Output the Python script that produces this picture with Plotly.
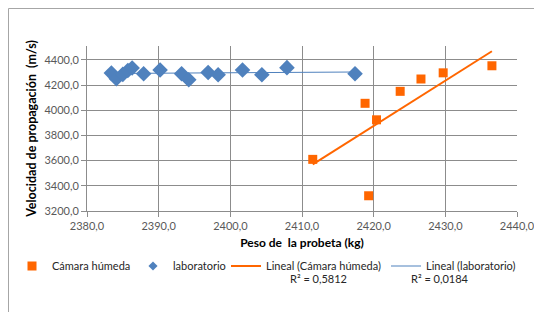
import numpy as np
import plotly.graph_objects as go

# --- data ---
camara_x = [2411.5, 2418.8, 2419.3, 2420.4, 2423.7, 2426.6, 2429.7, 2436.5]
camara_y = [3610, 4055, 3321, 3924, 4150, 4248, 4297, 4353]

lab_x = [2383.4, 2384.1, 2385.0, 2385.7, 2386.3, 2387.9, 2390.2, 2393.2,
         2394.2, 2396.9, 2398.3, 2401.7, 2404.4, 2407.9, 2417.4]
lab_y = [4295, 4250, 4285, 4315, 4335, 4290, 4320, 4290,
         4242, 4300, 4282, 4320, 4282, 4338, 4290]

x_ticks = [2380, 2390, 2400, 2410, 2420, 2430, 2440]
y_ticks = [3200, 3400, 3600, 3800, 4000, 4200, 4400]

r2_camara = "R² = 0,5812"
r2_lab = "R² = 0,0184"

ORANGE = "#FF6600"
BLUE = "#4F81BD"
FONT = "Lato, 'Open Sans', sans-serif"


def trend(xs, ys):
    xs = np.array(xs, dtype=float)
    ys = np.array(ys, dtype=float)
    m, b = np.polyfit(xs, ys, 1)
    xx = np.array([xs.min(), xs.max()])
    return xx, m * xx + b


tcx, tcy = trend(camara_x, camara_y)
tlx, tly = trend(lab_x, lab_y)

fig = go.Figure()
fig.add_trace(go.Scatter(x=tcx, y=tcy, mode="lines", name="Lineal (Cámara húmeda)",
                         line=dict(color=ORANGE, width=2), legend="legend3"))
fig.add_trace(go.Scatter(x=tlx, y=tly, mode="lines", name="Lineal (laboratorio)",
                         line=dict(color=BLUE, width=1), legend="legend4"))
fig.add_trace(go.Scatter(x=camara_x, y=camara_y, mode="markers", name="Cámara húmeda",
                         marker=dict(symbol="square", size=9, color=ORANGE), showlegend=False))
fig.add_trace(go.Scatter(x=lab_x, y=lab_y, mode="markers", name="laboratorio",
                         marker=dict(symbol="diamond", size=12, color=BLUE), showlegend=False))
# legend proxies with the smaller legend symbols of the reference
fig.add_trace(go.Scatter(x=[None], y=[None], mode="markers", name="Cámara húmeda",
                         marker=dict(symbol="square", size=9, color=ORANGE), legend="legend"))
fig.add_trace(go.Scatter(x=[None], y=[None], mode="markers", name="laboratorio",
                         marker=dict(symbol="diamond", size=7, color=BLUE), legend="legend2"))

# the page body adds an 8px offset; target pixels are given in page coords
OFF = 8
W, H = 542, 312
# plot area in page pixels: x 87..517, y 46..211
L = 87 - OFF
T = 46 - OFF
R = W - (517 - OFF)
B = H - (211 - OFF)
pw, ph = W - L - R, H - T - B


def px(xp):
    return (xp - OFF - L) / pw


def py(yp):
    return (H - B - (yp - OFF)) / ph


leg_common = dict(orientation="h", yanchor="middle", xanchor="left",
                  font=dict(family=FONT, size=11, color="#262626"),
                  bgcolor="rgba(0,0,0,0)", borderwidth=0)

fig.update_layout(
    width=W, height=H,
    margin=dict(l=L, r=R, t=T, b=B, autoexpand=False),
    paper_bgcolor="white", plot_bgcolor="white",
    separators=",.",
    font=dict(family=FONT, size=10, color="#595959"),
    legend=dict(x=px(12), y=py(266), **leg_common),
    legend2=dict(x=px(133), y=py(266), **leg_common),
    legend3=dict(x=px(226), y=py(266), **leg_common),
    legend4=dict(x=px(386), y=py(266), **leg_common),
    xaxis=dict(range=[2380, 2440], tickvals=x_ticks, tickformat=".1f",
               showgrid=True, gridcolor="#8C8C8C", gridwidth=1,
               showline=True, linecolor="#8C8C8C", linewidth=1,
               ticks="outside", ticklen=5, tickcolor="#8C8C8C",
               zeroline=False, automargin=False,
               tickfont=dict(family=FONT, size=11, color="#595959"),
               title=dict(text="<b>Peso de  la probeta (kg)</b>", standoff=7,
                          font=dict(family=FONT, size=12, color="#000000"))),
    yaxis=dict(range=[3200, 4510], tickvals=y_ticks, tickformat=".1f",
               showgrid=True, gridcolor="#8C8C8C", gridwidth=1,
               showline=True, linecolor="#8C8C8C", linewidth=1,
               ticks="outside", ticklen=5, tickcolor="#8C8C8C",
               zeroline=False, automargin=False,
               tickfont=dict(family=FONT, size=11, color="#595959"),
               title=dict(text="<b>Velocidad de propagación  (m/s)</b>", standoff=5,
                          font=dict(family=FONT, size=12.5, color="#000000"))),
    showlegend=True,
)

fig.add_annotation(text=r2_camara, xref="paper", yref="paper", x=px(318), y=py(287),
                   showarrow=False, font=dict(family=FONT, size=11, color="#262626"))
fig.add_annotation(text=r2_lab, xref="paper", yref="paper", x=px(471), y=py(287),
                   showarrow=False, font=dict(family=FONT, size=11, color="#262626"))

# chart-area frame (top and left edges visible), at the figure's top-left edge
fr_x = (0.5 - L) / pw
fr_y = (H - B - 0.5) / ph
fig.add_shape(type="line", xref="paper", yref="paper", x0=fr_x, x1=px(600), y0=fr_y, y1=fr_y,
              line=dict(color="#A6A6A6", width=1))
fig.add_shape(type="line", xref="paper", yref="paper", x0=fr_x, x1=fr_x, y0=fr_y, y1=py(400),
              line=dict(color="#A6A6A6", width=1))

fig.write_html("out.html")
